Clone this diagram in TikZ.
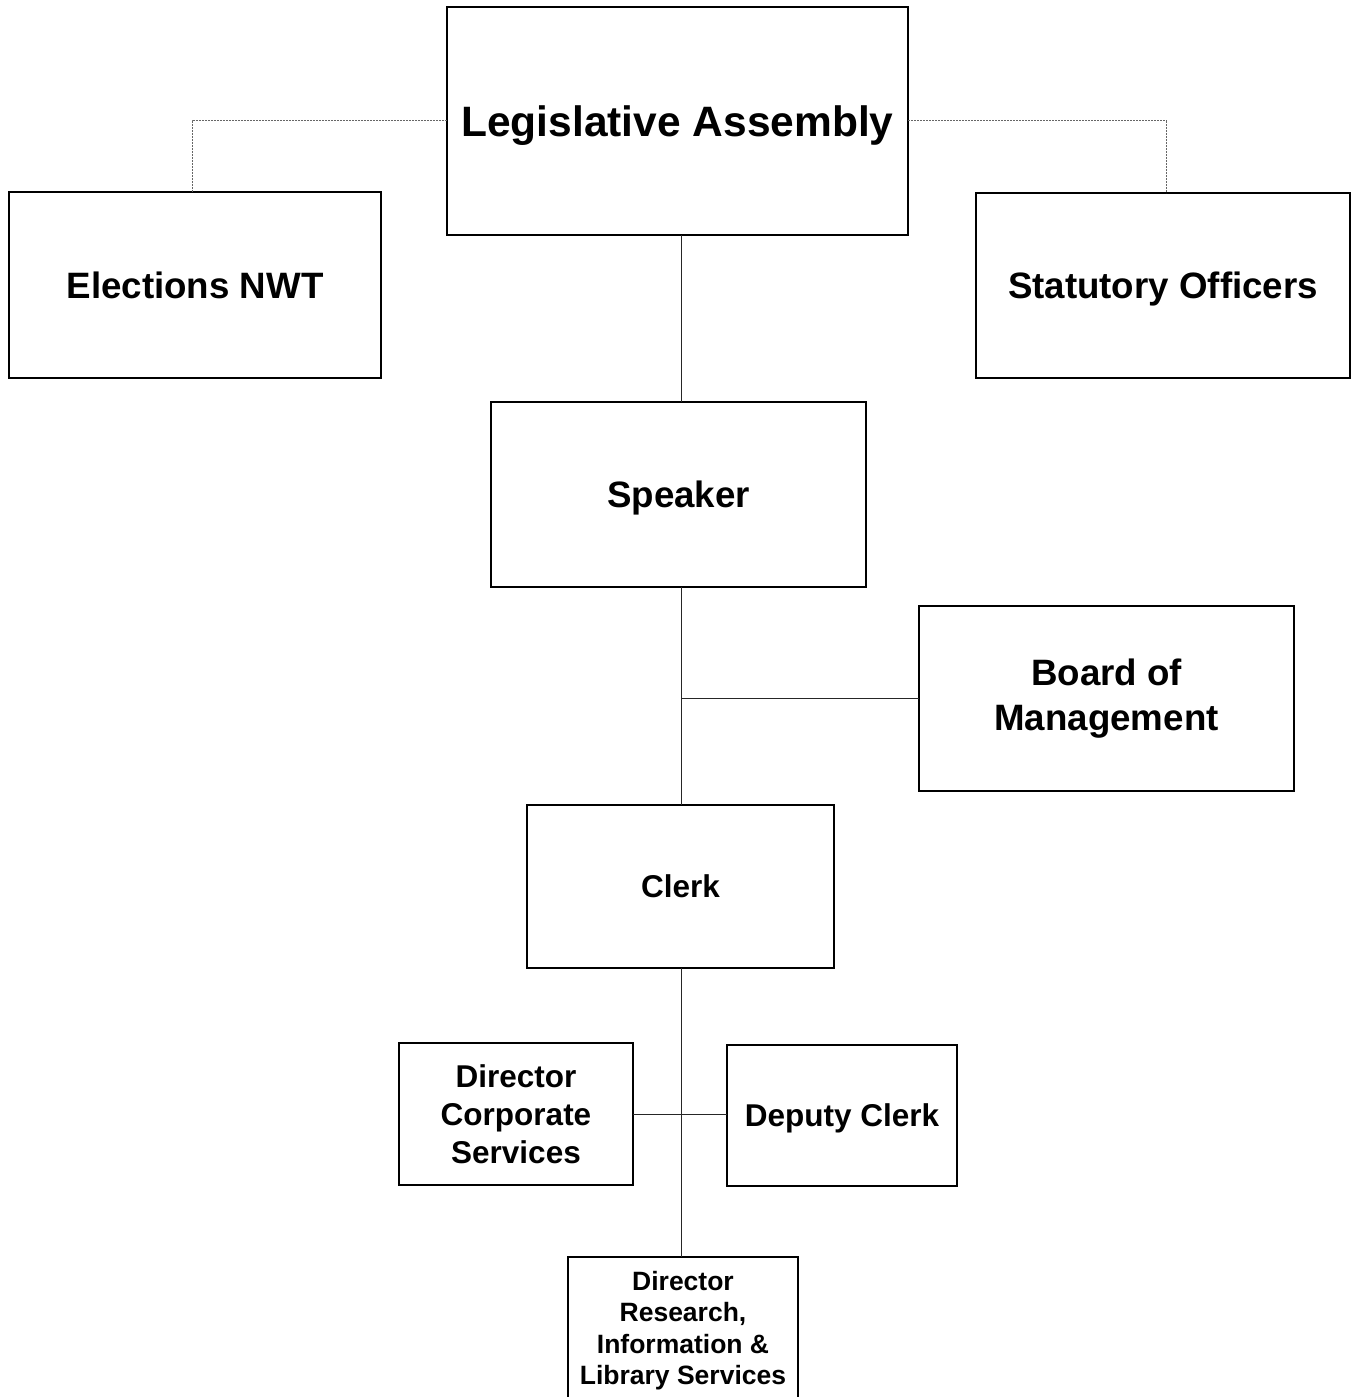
\documentclass[tikz,border=0pt]{standalone}
\usepackage{fontspec}
\setmainfont{Liberation Sans}
\begin{document}
\begin{tikzpicture}[x=1pt,y=1pt,
  box/.style={draw=black, line width=2pt, fill=white, inner sep=0pt, outer sep=0pt, align=center, font=\bfseries},
  one/.style={text height=#1, text depth=0pt},
  link/.style={draw=black!85, line width=1pt},
  dots/.style={draw=black!60, line width=1pt, densely dashed, dash pattern=on 2pt off 1pt},
  fA/.style={font=\bfseries\fontsize{42.5}{50}\selectfont},
  fB/.style={font=\bfseries\fontsize{36.7}{45}\selectfont},
  fC/.style={font=\bfseries\fontsize{31.5}{38}\selectfont},
  fD/.style={font=\bfseries\fontsize{26.5}{31.5}\selectfont}]
\useasboundingbox (0,0) rectangle (1355,1397);
\clip (0,0) rectangle (1355,1397);
\fill[white] (0,0) rectangle (1355,1397);
\coordinate (trunk) at (681,0);
% nodes
\node[box,fA,one=31pt,minimum width=461,minimum height=228] (LA) at (677.5,1276) {Legislative Assembly};
\node[box,fB,one=27pt,minimum width=372,minimum height=186] (EL) at (195,1112) {Elections NWT};
\node[box,fB,one=27pt,minimum width=374,minimum height=185] (SO) at (1163,1111.5) {Statutory Officers};
\node[box,fB,one=27pt,minimum width=375,minimum height=185] (SP) at (678.5,902.5) {Speaker};
\node[box,fB,minimum width=375,minimum height=185] (BM) at (1106.5,698.5) {Board of\\Management};
\node[box,fC,one=23pt,minimum width=307,minimum height=163] (CL) at (680.5,510.5) {Clerk};
\node[box,fC,minimum width=234,minimum height=142] (DCS) at (516,282.5) {Director\\Corporate\\Services};
\node[box,fC,one=23pt,minimum width=230,minimum height=141] (DC) at (842,281.5) {Deputy Clerk};
\node[box,fD,minimum width=230,minimum height=147] (DR) at (683,66.5) {Director\\Research,\\Information \&\\Library Services};
% dotted links
\draw[dots] (LA.west) -| ([xshift=-3]EL.north);
\draw[dots] (LA.east) -| ([xshift=3]SO.north);
% solid links
\draw[link] (LA.south -| trunk) -- (SP.north -| trunk);
\draw[link] (SP.south -| trunk) -- (CL.north -| trunk);
\draw[link] (BM.west) -- (BM.west -| trunk);
\draw[link] (CL.south -| trunk) -- (DR.north -| trunk);
\draw[link] (DCS.east) -- (DCS.east -| DC.west);
\end{tikzpicture}
\end{document}
